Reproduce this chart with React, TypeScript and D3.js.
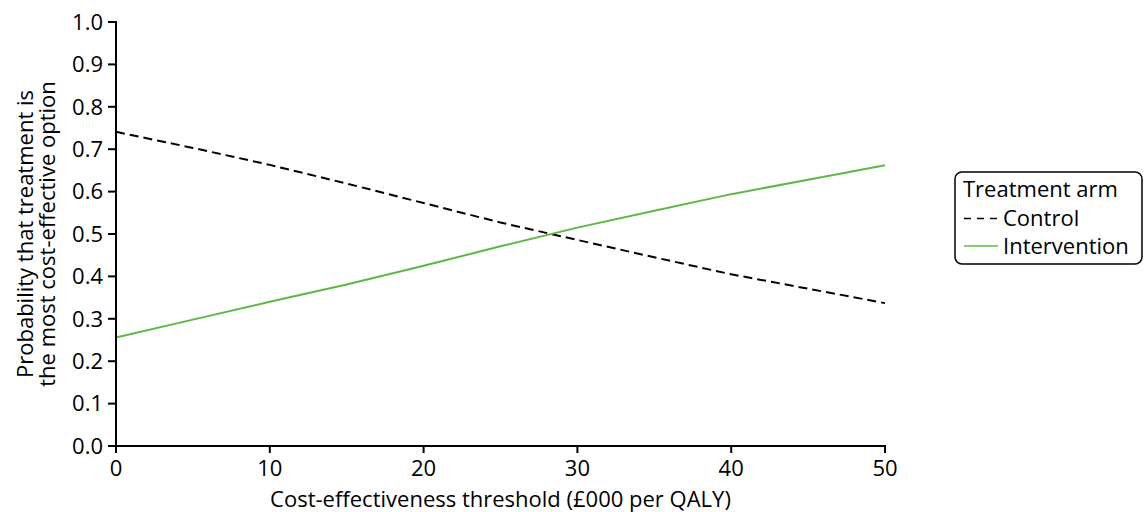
import React from "react";
import * as d3 from "d3";

// Cost-effectiveness acceptability curves (threshold in £000 per QALY)
const thresholds = [0, 5, 10, 15, 20, 25, 30, 35, 40, 45, 50];
const controlProb = [0.741, 0.703, 0.663, 0.619, 0.573, 0.527, 0.486, 0.445, 0.405, 0.371, 0.337];
const interventionProb = [0.256, 0.298, 0.340, 0.381, 0.425, 0.471, 0.515, 0.555, 0.594, 0.628, 0.662];
const xTicks = [0, 10, 20, 30, 40, 50];
const yTicks = [0, 0.1, 0.2, 0.3, 0.4, 0.5, 0.6, 0.7, 0.8, 0.9, 1.0];
const seriesNames = ["Control", "Intervention"];

const W = 1146;
const H = 512;
const FONT = "'Open Sans', 'Noto Sans', sans-serif";
const FS = 22;
const GREEN = "#5db846";

export default function App() {
  const x = d3.scaleLinear().domain([0, 50]).range([116, 885]);
  const y = d3.scaleLinear().domain([0, 1]).range([446, 22]);
  const line = d3
    .line<number>()
    .x((_, i) => x(thresholds[i]))
    .y((d) => y(d));

  const legendX = 955;
  const legendY = 172;

  return (
    <svg
      width={W}
      height={H}
      style={{ position: "absolute", left: 0, top: 0, background: "#fff" }}
      fontFamily={FONT}
    >
      {/* curves */}
      <path d={line(controlProb) || ""} fill="none" stroke="#000" strokeWidth={2} strokeDasharray="9,5" />
      <path d={line(interventionProb) || ""} fill="none" stroke={GREEN} strokeWidth={2} />

      {/* y axis */}
      <line x1={x(0)} x2={x(0)} y1={y(0) + 1} y2={y(1) - 1} stroke="#000" strokeWidth={2} />
      {yTicks.map((t) => (
        <g key={t}>
          <line x1={x(0) - 8} x2={x(0)} y1={y(t)} y2={y(t)} stroke="#000" strokeWidth={2} />
          <text x={x(0) - 13} y={y(t)} dy="0.35em" textAnchor="end" fontSize={FS} fill="#000">
            {t.toFixed(1)}
          </text>
        </g>
      ))}

      {/* x axis */}
      <line x1={x(0) - 1} x2={x(50) + 1} y1={y(0)} y2={y(0)} stroke="#000" strokeWidth={2} />
      {xTicks.map((t) => (
        <g key={t}>
          <line x1={x(t)} x2={x(t)} y1={y(0)} y2={y(0) + 7} stroke="#000" strokeWidth={2} />
          <text x={x(t)} y={476} textAnchor="middle" fontSize={FS} fill="#000">
            {t}
          </text>
        </g>
      ))}

      <text x={(x(0) + x(50)) / 2} y={507} textAnchor="middle" fontSize={FS} fill="#000">
        Cost-effectiveness threshold (£000 per QALY)
      </text>
      <text transform={`translate(33, ${y(0.5)}) rotate(-90)`} textAnchor="middle" fontSize={FS} fill="#000">
        Probability that treatment is
      </text>
      <text transform={`translate(54.5, ${y(0.5)}) rotate(-90)`} textAnchor="middle" fontSize={FS} fill="#000">
        the most cost-effective option
      </text>

      {/* legend */}
      <rect x={legendX} y={legendY} width={187} height={92} rx={7} fill="#fff" stroke="#000" strokeWidth={1.5} />
      <text x={963} y={197} fontSize={FS} fill="#000">Treatment arm</text>
      <line x1={964} x2={998} y1={218.5} y2={218.5} stroke="#000" strokeWidth={1.7} strokeDasharray="7,6" />
      <text x={1003} y={226} fontSize={FS} fill="#000">{seriesNames[0]}</text>
      <line x1={964} x2={998} y1={246} y2={246} stroke={GREEN} strokeWidth={1.7} />
      <text x={1003} y={254} fontSize={FS} fill="#000">{seriesNames[1]}</text>
    </svg>
  );
}
